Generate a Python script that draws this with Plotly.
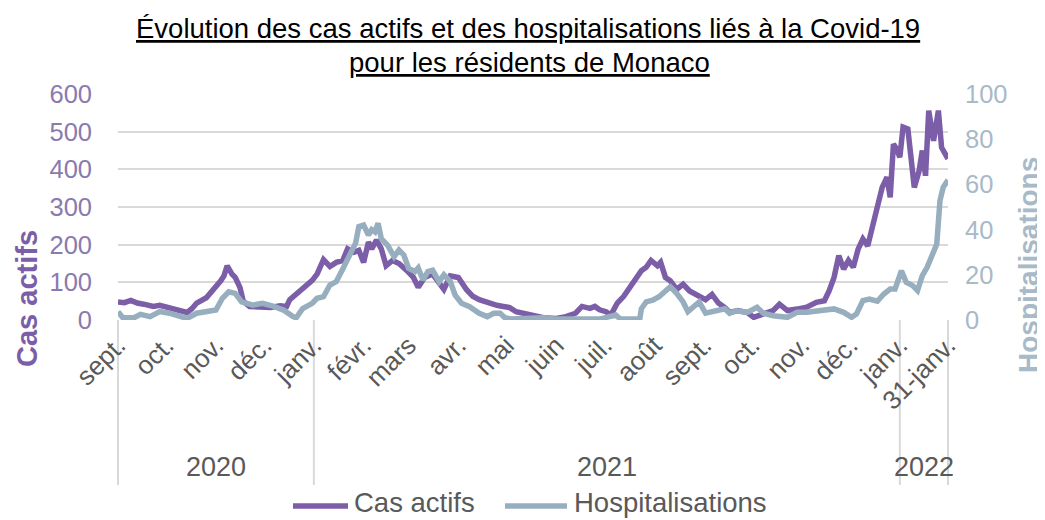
import pandas as pd
import plotly.graph_objects as go

# ---------------- data ----------------
cas_dates = [
    "2020-09-01", "2020-09-05", "2020-09-09", "2020-09-13", "2020-09-17", "2020-09-23", "2020-09-27",
    "2020-10-03", "2020-10-08", "2020-10-11", "2020-10-14", "2020-10-17", "2020-10-20", "2020-10-26",
    "2020-11-01", "2020-11-04", "2020-11-06", "2020-11-08", "2020-11-11", "2020-11-13", "2020-11-16",
    "2020-11-18", "2020-11-22", "2020-11-28", "2020-12-05", "2020-12-11", "2020-12-15", "2020-12-17",
    "2020-12-22", "2020-12-27", "2020-12-31", "2021-01-03", "2021-01-07", "2021-01-11", "2021-01-15",
    "2021-01-19", "2021-01-22", "2021-01-26", "2021-01-29", "2021-02-01", "2021-02-04", "2021-02-06",
    "2021-02-09", "2021-02-12", "2021-02-15", "2021-02-19", "2021-02-23", "2021-02-28", "2021-03-04",
    "2021-03-07", "2021-03-11", "2021-03-16", "2021-03-23", "2021-03-27", "2021-04-01", "2021-04-06",
    "2021-04-10", "2021-04-14", "2021-04-20", "2021-04-25", "2021-04-29", "2021-05-03", "2021-05-07",
    "2021-05-11", "2021-05-16", "2021-05-24", "2021-06-01", "2021-06-07", "2021-06-13", "2021-06-17",
    "2021-06-22", "2021-06-25", "2021-06-28", "2021-07-02", "2021-07-05", "2021-07-09", "2021-07-13",
    "2021-07-17", "2021-07-21", "2021-07-24", "2021-07-27", "2021-07-30", "2021-08-03", "2021-08-05",
    "2021-08-08", "2021-08-11", "2021-08-15", "2021-08-19", "2021-08-23", "2021-08-27", "2021-09-02",
    "2021-09-06", "2021-09-10", "2021-09-14", "2021-09-17", "2021-09-22", "2021-09-28", "2021-10-02",
    "2021-10-08", "2021-10-14", "2021-10-18", "2021-10-23", "2021-10-29", "2021-11-04", "2021-11-10",
    "2021-11-15", "2021-11-18", "2021-11-21", "2021-11-24", "2021-11-27", "2021-11-30", "2021-12-03",
    "2021-12-06", "2021-12-09", "2021-12-12", "2021-12-16", "2021-12-18", "2021-12-21", "2021-12-24",
    "2021-12-26", "2021-12-28", "2021-12-30", "2022-01-01", "2022-01-03", "2022-01-06", "2022-01-08",
    "2022-01-10", "2022-01-13", "2022-01-15", "2022-01-17", "2022-01-19", "2022-01-22", "2022-01-25",
    "2022-01-27", "2022-01-29", "2022-01-31",
]
cas_actifs = [
    48, 46, 52, 45, 42, 36, 39,
    32, 27, 22, 20, 30, 45, 59,
    86, 104, 117, 144, 122, 113, 86,
    50, 36, 33, 33, 38, 36, 54,
    72, 86, 105, 122, 160, 142, 153,
    158, 189, 180, 185, 153, 207, 189,
    212, 189, 144, 158, 150, 131, 113,
    87, 113, 122, 81, 117, 113, 81,
    63, 54, 45, 39, 36, 33, 22,
    18, 13, 6, 4, 9, 18, 36,
    31, 36, 27, 22, 13, 45, 63,
    86, 108, 131, 140, 158, 144, 153,
    113, 104, 81, 95, 77, 68, 54,
    68, 45, 33, 20, 25, 20, 7,
    16, 25, 42, 25, 29, 34, 47,
    51, 78, 113, 171, 135, 158, 140,
    188, 215, 197, 272, 299, 352, 379,
    326, 467, 454, 432, 512, 507, 441,
    352, 396, 450, 383, 556, 476, 556,
    458, 440, 428,
]

hosp_dates = [
    "2020-09-01", "2020-09-04", "2020-09-11", "2020-09-15", "2020-09-21", "2020-09-27", "2020-10-03",
    "2020-10-09", "2020-10-14", "2020-10-20", "2020-10-26", "2020-11-01", "2020-11-05", "2020-11-09",
    "2020-11-13", "2020-11-17", "2020-11-24", "2020-11-30", "2020-12-06", "2020-12-13", "2020-12-19",
    "2020-12-21", "2020-12-25", "2020-12-31", "2021-01-03", "2021-01-07", "2021-01-11", "2021-01-15",
    "2021-01-19", "2021-01-23", "2021-01-27", "2021-01-29", "2021-02-01", "2021-02-04", "2021-02-06",
    "2021-02-08", "2021-02-10", "2021-02-12", "2021-02-16", "2021-02-20", "2021-02-23", "2021-02-26",
    "2021-03-01", "2021-03-05", "2021-03-07", "2021-03-10", "2021-03-13", "2021-03-16", "2021-03-20",
    "2021-03-23", "2021-03-27", "2021-03-30", "2021-04-03", "2021-04-08", "2021-04-14", "2021-04-19",
    "2021-04-23", "2021-04-27", "2021-04-30", "2021-05-04", "2021-05-24", "2021-05-31", "2021-06-28",
    "2021-07-08", "2021-07-11", "2021-07-23", "2021-07-24", "2021-07-27", "2021-07-31", "2021-08-04",
    "2021-08-08", "2021-08-11", "2021-08-15", "2021-08-19", "2021-08-22", "2021-08-26", "2021-08-29",
    "2021-09-02", "2021-09-06", "2021-09-10", "2021-09-14", "2021-09-17", "2021-09-21", "2021-09-28",
    "2021-10-04", "2021-10-08", "2021-10-14", "2021-10-23", "2021-10-29", "2021-11-04", "2021-11-10",
    "2021-11-21", "2021-11-27", "2021-12-02", "2021-12-05", "2021-12-09", "2021-12-13", "2021-12-18",
    "2021-12-22", "2021-12-26", "2021-12-29", "2022-01-02", "2022-01-05", "2022-01-09", "2022-01-12",
    "2022-01-15", "2022-01-18", "2022-01-22", "2022-01-24", "2022-01-26", "2022-01-28", "2022-01-31",
]
hospitalisations = [
    3.7, 1, 1, 2.5, 1.5, 3.7, 3,
    2, 0.7, 3, 3.4, 4.4, 9.6, 12.5,
    11.8, 8, 6.6, 7.4, 6.3, 4.4, 1.5,
    1, 5, 7.4, 9.6, 10.3, 15.5, 17,
    22.6, 28, 34, 41.3, 42, 37.6, 40,
    39, 42.8, 36, 33, 28, 31, 28.8,
    22.9, 21.4, 23, 17.7, 21.4, 22, 17,
    20, 17, 11, 7.4, 5.9, 3, 1.5,
    3, 3, 1, 0.4, 1, 0.4, 0.4,
    2.2, 0.4, 0.4, 5, 8, 8.8, 10.3,
    13.3, 14.7, 11.8, 8, 3.7, 5.9, 8,
    3, 3.7, 4.4, 5, 3, 4.1, 3.4,
    5.6, 3, 1.9, 1.2, 3.4, 3.4, 4.1,
    4.9, 3.4, 1.2, 2.7, 8.6, 9.3, 8.3,
    11.5, 13.7, 13.7, 21.8, 16.7, 15.2, 13,
    19.6, 23.3, 30, 33.6, 52.8, 58.7, 62,
]

month_tick_dates = [
    "2020-09-01", "2020-10-01", "2020-11-01", "2020-12-01", "2021-01-01", "2021-02-01",
    "2021-03-01", "2021-04-01", "2021-05-01", "2021-06-01", "2021-07-01", "2021-08-01",
    "2021-09-01", "2021-10-01", "2021-11-01", "2021-12-01", "2022-01-01", "2022-01-31",
]
month_tick_labels = [
    "sept.", "oct.", "nov.", "déc.", "janv.", "févr.", "mars", "avr.", "mai", "juin",
    "juil.", "août", "sept.", "oct.", "nov.", "déc.", "janv.", "31-janv.",
]
year_bounds = ["2020-09-01", "2021-01-01", "2022-01-01", "2022-01-31"]
year_labels = ["2020", "2021", "2022"]

left_ticks = [0, 100, 200, 300, 400, 500, 600]
right_ticks = [0, 20, 40, 60, 80, 100]

title_lines = [
    "Évolution des cas actifs et des hospitalisations liés à la Covid-19",
    "pour les résidents de Monaco",
]
series_names = ["Cas actifs", "Hospitalisations"]

# ---------------- style / layout ----------------
PURPLE = "#7B5EA7"
BLUEGRAY = "#97AEBF"
PURPLE_TXT = "#8A7AAD"
BLUEGRAY_TXT = "#A8B9C8"
GRAY_TXT = "#595959"
GRID = "#D9D9D9"
FONT = "Liberation Sans, Arial, sans-serif"

# page has an 8px body margin: figure is 1037x512 so it fills 1045x520
FIG_W, FIG_H = 1037, 512
PLOT_L, PLOT_R, PLOT_T, PLOT_B = 118, 948, 94, 320  # page pixels of the plot area
OFF = 8


def px(xp):
    return (xp - PLOT_L) / (PLOT_R - PLOT_L)


def py(yp):
    return (PLOT_B - yp) / (PLOT_B - PLOT_T)


x_start, x_end = year_bounds[0], year_bounds[-1]
t0, t1 = pd.Timestamp(x_start), pd.Timestamp(x_end)


def frac(d):
    return (pd.Timestamp(d) - t0) / (t1 - t0)


fig = go.Figure()
fig.add_trace(go.Scatter(
    x=cas_dates, y=cas_actifs, name=series_names[0], mode="lines",
    line=dict(color=PURPLE, width=5.5), yaxis="y", showlegend=False,
))
fig.add_trace(go.Scatter(
    x=hosp_dates, y=hospitalisations, name=series_names[1], mode="lines",
    line=dict(color=BLUEGRAY, width=5.5), yaxis="y2", showlegend=False,
))

shapes = []
for d in year_bounds:
    xf = frac(d)
    shapes.append(dict(type="line", xref="paper", yref="paper", x0=xf, x1=xf,
                       y0=0, y1=py(485), line=dict(color=GRID, width=2), layer="below"))

annotations = []
# title (two underlined lines)
annotations.append(dict(text="<u>" + title_lines[0] + "</u>", x=px(528), y=py(28),
                        xref="paper", yref="paper", showarrow=False,
                        xanchor="center", yanchor="middle",
                        font=dict(size=27.5, color="black", family=FONT)))
annotations.append(dict(text="<u>" + title_lines[1] + "</u>", x=px(529), y=py(62),
                        xref="paper", yref="paper", showarrow=False,
                        xanchor="center", yanchor="middle",
                        font=dict(size=27.5, color="black", family=FONT)))

for i, lab in enumerate(year_labels):
    xm = (frac(year_bounds[i]) + frac(year_bounds[i + 1])) / 2
    annotations.append(dict(text=lab, x=xm, y=py(467), xref="paper", yref="paper",
                            showarrow=False, xanchor="center", yanchor="middle",
                            font=dict(size=27, color=GRAY_TXT, family=FONT)))

annotations.append(dict(text="<b>" + series_names[0] + "</b>", x=px(27), y=py(299),
                        xref="paper", yref="paper", showarrow=False, textangle=-90,
                        xanchor="center", yanchor="middle",
                        font=dict(size=29, color=PURPLE, family=FONT)))
annotations.append(dict(text="<b>" + series_names[1] + "</b>", x=px(1028), y=py(265),
                        xref="paper", yref="paper", showarrow=False, textangle=-90,
                        xanchor="center", yanchor="middle",
                        font=dict(size=28, color=BLUEGRAY_TXT, family=FONT)))

# legend drawn by hand (long line samples as in the reference)
legend_items = [(PURPLE, 293, 348, 352), (BLUEGRAY, 505, 567, 572)]
for (col, x0, x1, xt), name in zip(legend_items, series_names):
    shapes.append(dict(type="line", xref="paper", yref="paper", x0=px(x0), x1=px(x1),
                       y0=py(506), y1=py(506), line=dict(color=col, width=5.5)))
    annotations.append(dict(text=name, x=px(xt), y=py(502), xref="paper", yref="paper",
                            showarrow=False, xanchor="left", yanchor="middle",
                            font=dict(size=27.5, color=GRAY_TXT, family=FONT)))

fig.update_layout(
    width=FIG_W, height=FIG_H, autosize=False,
    margin=dict(l=PLOT_L - OFF, r=FIG_W - (PLOT_R - OFF), t=PLOT_T - OFF,
                b=FIG_H - (PLOT_B - OFF), autoexpand=False, pad=0),
    paper_bgcolor="white", plot_bgcolor="white",
    font=dict(family=FONT, color=GRAY_TXT),
    showlegend=False,
    xaxis=dict(
        type="date", range=[x_start, x_end],
        tickvals=month_tick_dates, ticktext=month_tick_labels,
        tickangle=-45, tickfont=dict(size=26, color=GRAY_TXT),
        showgrid=False, zeroline=False, showline=False, ticks="",
        ticklabelstandoff=4, automargin=False,
    ),
    yaxis=dict(
        range=[0, 600], tickvals=left_ticks,
        showgrid=True, gridcolor=GRID, gridwidth=2, zeroline=False, showline=False,
        tickfont=dict(size=25.5, color=PURPLE_TXT), ticklabelstandoff=25, automargin=False,
    ),
    yaxis2=dict(
        range=[0, 100], tickvals=right_ticks, overlaying="y", side="right",
        showgrid=False, zeroline=False, showline=False,
        tickfont=dict(size=25.5, color=BLUEGRAY_TXT), ticklabelstandoff=16, automargin=False,
    ),
    shapes=shapes,
    annotations=annotations,
)

fig.write_html("out.html")
